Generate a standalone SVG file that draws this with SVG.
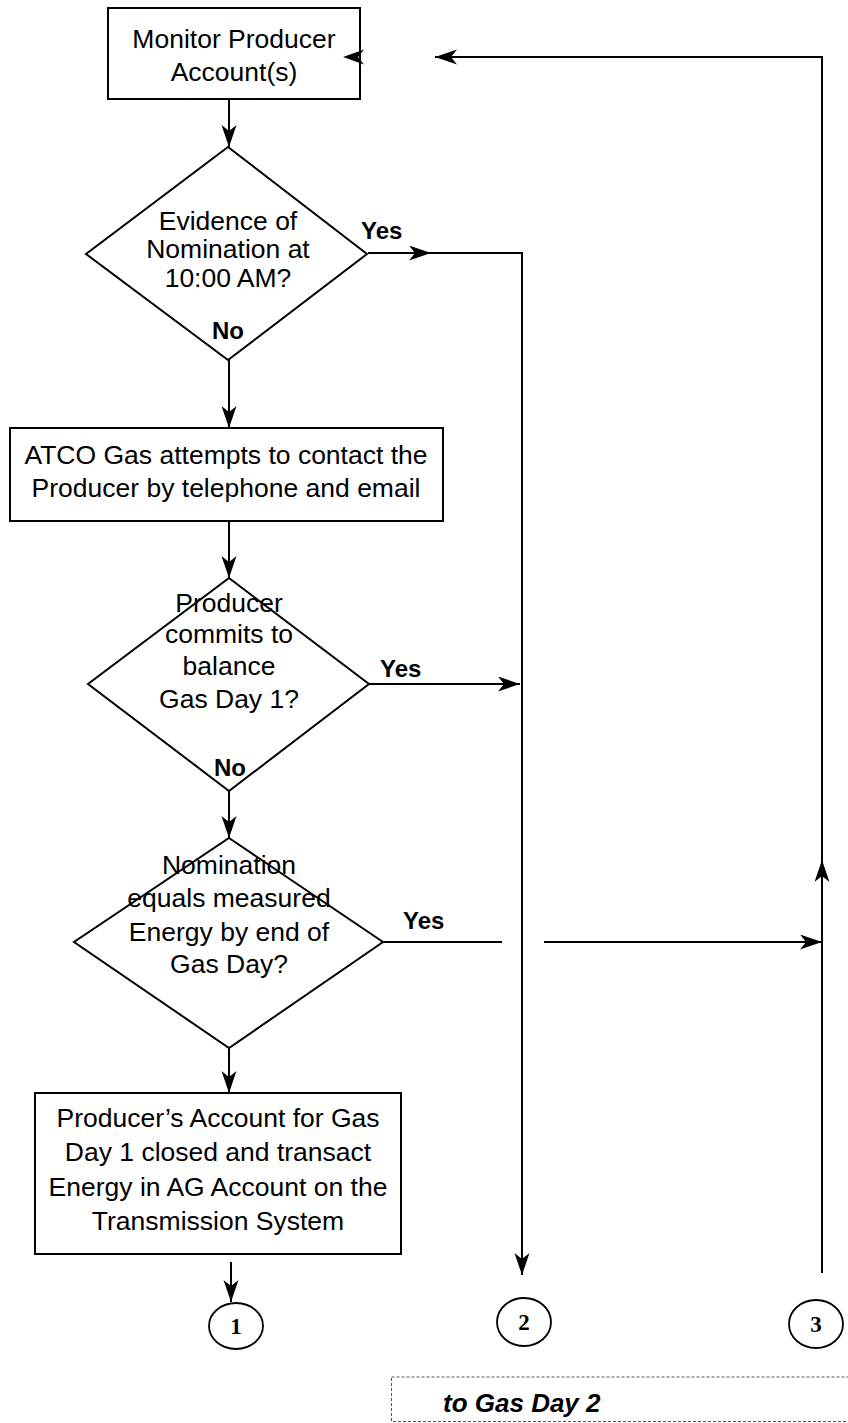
<svg xmlns="http://www.w3.org/2000/svg" width="848" height="1423" viewBox="0 0 848 1423">
  <style>
    .shape { fill: #fff; stroke: #000; stroke-width: 2; }
    .line { fill: none; stroke: #000; stroke-width: 2; }
    .txt { font-family: "Liberation Sans", Arial, sans-serif; font-size: 26.5px; fill: #000; text-anchor: middle; }
    .lbl { font-family: "Liberation Sans", Arial, sans-serif; font-size: 24px; font-weight: bold; fill: #000; }
    .num { font-family: "Liberation Serif", "Times New Roman", serif; font-size: 23px; font-weight: bold; fill: #000; text-anchor: middle; }
    .conn { fill: none; stroke: #000; stroke-width: 1.8; }
    .dash { fill: none; stroke: #555; stroke-width: 1; stroke-dasharray: 3 2; }
  </style>
  <defs>
    <marker id="arrow" markerUnits="userSpaceOnUse" markerWidth="24" markerHeight="16" refX="22" refY="7.5" orient="auto">
      <path d="M0,0 L22,7.5 L0,15 L6,7.5 z" fill="#000"/>
    </marker>
  </defs>

  <!-- nodes -->
  <g id="monitor">
    <rect class="shape" x="108" y="8" width="252" height="91"/>
    <text class="txt" x="234" y="48">Monitor Producer</text>
    <text class="txt" x="234" y="81">Account(s)</text>
  </g>

  <g id="decision-nomination">
    <polygon class="shape" points="228,147 367,254 228,360 86,254"/>
    <text class="txt" x="228" y="230">Evidence of</text>
    <text class="txt" x="228" y="258">Nomination at</text>
    <text class="txt" x="228" y="287">10:00 AM?</text>
    <text class="lbl" x="228" y="339" text-anchor="middle">No</text>
    <text class="lbl" x="361" y="239">Yes</text>
  </g>

  <g id="contact">
    <rect class="shape" x="10" y="428" width="433" height="93"/>
    <text class="txt" x="226" y="464">ATCO Gas attempts to contact the</text>
    <text class="txt" x="226" y="497">Producer by telephone and email</text>
  </g>

  <g id="decision-commit">
    <polygon class="shape" points="229,578 369,684 229,791 88,684"/>
    <text class="txt" x="229" y="612">Producer</text>
    <text class="txt" x="229" y="643">commits to</text>
    <text class="txt" x="229" y="675">balance</text>
    <text class="txt" x="229" y="708">Gas Day 1?</text>
    <text class="lbl" x="230" y="776" text-anchor="middle">No</text>
    <text class="lbl" x="380" y="677">Yes</text>
  </g>

  <g id="decision-balance">
    <polygon class="shape" points="229,838 383,942 229,1048 74,942"/>
    <text class="txt" x="229" y="874">Nomination</text>
    <text class="txt" x="229" y="907">equals measured</text>
    <text class="txt" x="229" y="941">Energy by end of</text>
    <text class="txt" x="229" y="973">Gas Day?</text>
    <text class="lbl" x="403" y="929">Yes</text>
  </g>

  <g id="close-account">
    <rect class="shape" x="35" y="1093" width="366" height="161"/>
    <text class="txt" x="218" y="1127">Producer’s Account for Gas</text>
    <text class="txt" x="218" y="1161">Day 1 closed and transact</text>
    <text class="txt" x="218" y="1196">Energy in AG Account on the</text>
    <text class="txt" x="218" y="1230">Transmission System</text>
  </g>

  <g id="connector-1">
    <ellipse class="conn" cx="236" cy="1326" rx="27" ry="23"/>
    <text class="num" x="236" y="1334">1</text>
  </g>
  <g id="connector-2">
    <ellipse class="conn" cx="524" cy="1322" rx="27" ry="24"/>
    <text class="num" x="524" y="1330">2</text>
  </g>
  <g id="connector-3">
    <ellipse class="conn" cx="816" cy="1324" rx="27" ry="24"/>
    <text class="num" x="816" y="1332">3</text>
  </g>

  <g id="next-day">
    <rect class="dash" x="391.5" y="1377" width="470" height="44.5"/>
    <text x="443" y="1412" font-family="Liberation Sans, Arial, sans-serif" font-size="26" font-weight="bold" font-style="italic" fill="#000">to Gas Day 2</text>
  </g>

  <!-- connectors -->
  <g id="connectors">
    <line class="line" x1="229" y1="99" x2="229" y2="147" marker-end="url(#arrow)"/>
    <line class="line" x1="229" y1="360" x2="229" y2="428" marker-end="url(#arrow)"/>
    <line class="line" x1="229" y1="521" x2="229" y2="578" marker-end="url(#arrow)"/>
    <line class="line" x1="229" y1="791" x2="229" y2="838" marker-end="url(#arrow)"/>
    <line class="line" x1="229" y1="1048" x2="229" y2="1093" marker-end="url(#arrow)"/>
    <line class="line" x1="231" y1="1262" x2="231" y2="1302" marker-end="url(#arrow)"/>

    <!-- Yes from first decision, down to connector 2 -->
    <line class="line" x1="368" y1="253" x2="431" y2="253" marker-end="url(#arrow)"/>
    <polyline class="line" points="431,253 522,253 522,1275" marker-end="url(#arrow)"/>

    <!-- Yes from second decision -->
    <line class="line" x1="369" y1="684" x2="520" y2="684" marker-end="url(#arrow)"/>

    <!-- Yes from third decision, hopping over the vertical line -->
    <line class="line" x1="383" y1="942" x2="502" y2="942"/>
    <line class="line" x1="544" y1="942" x2="822" y2="942" marker-end="url(#arrow)"/>

    <!-- return path from connector 3 back to the monitoring step -->
    <line class="line" x1="822" y1="1273" x2="822" y2="860" marker-end="url(#arrow)"/>
    <polyline class="line" points="822,860 822,57 435,57" marker-end="url(#arrow)"/>
    <path d="M343,57 L364,49.5 L358,57 L364,64.5 z" fill="#000"/>
  </g>
</svg>
